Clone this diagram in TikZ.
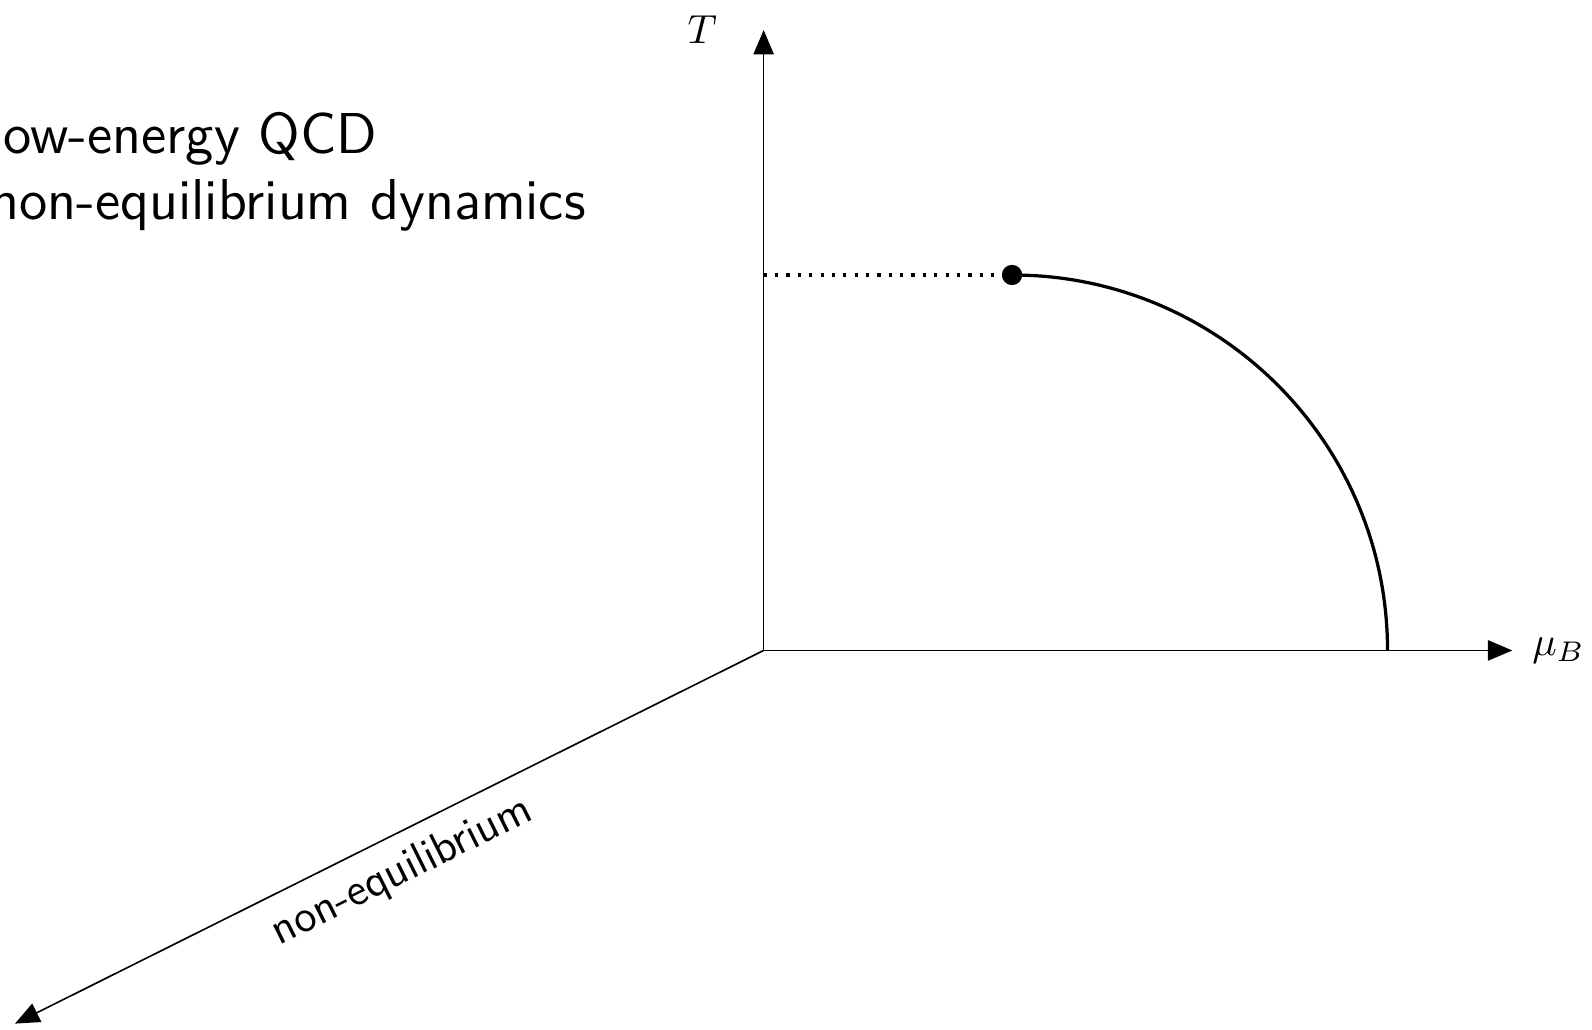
\documentclass[tikz,border=0pt]{standalone}
\usepackage{amsmath}
\usepackage{amssymb}
\usetikzlibrary{arrows.meta,positioning}

\tikzset{axis/.style={-{Triangle[length=6pt,width=5pt]}},
  bigtext/.style={font=\sffamily\fontsize{14.2}{17}\selectfont,anchor=base west,inner sep=0pt}}

\begin{document}
\begin{tikzpicture}
\useasboundingbox (-6.61,-3.28) rectangle (7.17,5.63);
\coordinate (o) at (0,0);
\coordinate (ttip) at (0,5.37);
\coordinate (mutip) at (6.48,0);
\coordinate (neqtip) at (-6.48,-3.23);
\coordinate (cep) at (2.15,3.25);
\coordinate (tcep) at (0,3.25);
% axes
\draw [axis] (o) -- (ttip);
\draw [axis] (o) -- (mutip);
\draw [axis] (o) -- (neqtip)
  node [pos=0.505,sloped,below=0.2mm,font=\sffamily\fontsize{11.2}{13}\selectfont] (neqlab) {non-equilibrium};
\node [left=2.8mm of ttip] (tlab) {$T$};
\node [right=0.5mm of mutip] (mulab) {$\mu_B$};
% crossover and transition line
\draw [thick,dotted] (tcep) -- (cep);
\draw [thick] (cep) arc (90:0:3.25);
\fill (cep) circle (2.5pt);
% text
\node [bigtext] (lowqcd) at (-6.70,4.30) {low-energy QCD};
\node [bigtext] (neqdyn) at (-6.70,3.73) {non-equilibrium dynamics};
\end{tikzpicture}
\end{document}
